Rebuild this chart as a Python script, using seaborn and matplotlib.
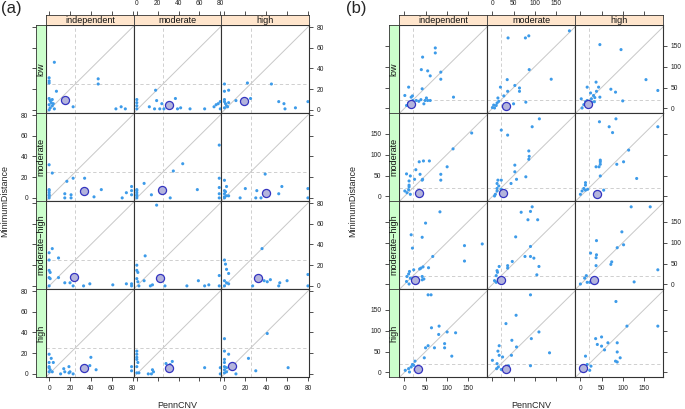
import pandas as pd
import matplotlib
matplotlib.use('Agg')
import matplotlib.pyplot as plt
import seaborn as sns

# --- DATA ---
col_names = ['independent', 'moderate', 'high']
row_names = ['low', 'moderate', 'moderate\u2212high', 'high']

# panel (a)
a_low_independent = [(5, 46), (0, 31), (0, 28), (0, 26), (7, 18), (0, 11), (1, 9), (2, 7), (0, 5), (3, 4), (1, 2),
                     (0, 0), (5, 1), (3, 10), (4, 6), (23, 3), (47, 30), (47, 25), (64, 1), (69, 3), (73, 1)]
a_low_moderate = [(0, 10), (0, 7), (0, 4), (0, 1), (12, 3), (18, 19), (19, 9), (17, 1), (22, 1), (24, 6), (26, 1),
                  (37, 11), (39, 1), (42, 2), (51, 1), (65, 1), (74, 3), (76, 5), (78, 6), (80, 8), (80, 1)]
a_low_high = [(0, 25), (0, 18), (4, 19), (0, 10), (0, 8), (1, 6), (2, 4), (0, 2), (3, 3), (4, 7), (11, 9), (22, 26),
              (25, 11), (45, 25), (52, 8), (57, 6), (58, 1), (68, 2), (80, 8)]
a_mod_independent = [(0, 32), (3, 24), (0, 8), (0, 7), (0, 5), (0, 3), (0, 2), (0, 0), (17, 16), (23, 19), (34, 19),
                     (15, 4), (21, 3), (15, 0), (21, 0), (43, 1), (50, 8), (70, 0), (74, 5), (79, 11), (79, 7), (79, 3)]
a_mod_moderate = [(0, 8), (0, 7), (0, 5), (0, 3), (0, 2), (0, 0), (7, 14), (14, 3), (32, 0), (35, 26), (44, 33),
                  (58, 8), (79, 51), (79, 19), (79, 10), (79, 4), (79, 0)]
a_mod_high = [(0, 17), (2, 11), (0, 7), (1, 6), (0, 4), (2, 2), (0, 1), (0, 0), (4, 2), (15, 0), (20, 9), (31, 7),
              (39, 23), (30, 0), (35, 0), (52, 4), (55, 11), (80, 9), (80, 0)]
a_modhigh_independent = [(3, 36), (0, 32), (0, 25), (9, 27), (0, 15), (1, 13), (0, 8), (1, 7), (0, 0), (9, 8),
                         (15, 3), (20, 3), (23, 0), (33, 0), (39, 2), (61, 1), (74, 2), (79, 2), (79, 0)]
a_modhigh_moderate = [(19, 78), (8, 29), (0, 20), (0, 15), (1, 13), (0, 7), (1, 4), (2, 0), (7, 5), (13, 0), (15, 1),
                      (27, 0), (48, 0), (59, 5), (65, 0), (69, 1), (79, 10), (79, 0)]
a_modhigh_high = [(0, 25), (1, 21), (2, 16), (4, 12), (0, 5), (0, 0), (2, 3), (4, 2), (27, 0), (36, 36), (38, 5),
                  (41, 4), (44, 6), (52, 0), (53, 3), (60, 5), (80, 11), (80, 0)]
a_high_independent = [(0, 19), (2, 15), (0, 11), (0, 7), (0, 6), (0, 2), (1, 4), (4, 11), (3, 2), (11, 0), (14, 5),
                      (15, 2), (19, 1), (20, 2), (19, 7), (23, 0), (39, 8), (40, 16), (45, 4), (79, 7), (79, 3)]
a_high_moderate = [(0, 22), (0, 19), (0, 16), (0, 14), (0, 7), (0, 1), (1, 11), (2, 1), (11, 0), (14, 0), (15, 4),
                   (16, 2), (28, 10), (32, 9), (34, 12), (65, 6), (80, 6), (80, 0)]
a_high_high = [(0, 34), (0, 22), (4, 19), (0, 14), (0, 11), (0, 7), (0, 4), (0, 1), (2, 6), (2, 2), (11, 0), (23, 15),
               (30, 3), (41, 39), (61, 6)]
a_centers = [(15, 10), (31, 5), (19, 9),
             (33, 7), (24, 8), (40, 5),
             (24, 9), (22, 8), (32, 8),
             (33, 6), (31, 6), (7, 8)]

# panel (b)
b_low_independent = [(73, 145), (73, 133), (43, 123), (40, 93), (55, 90), (61, 78), (86, 87), (86, 70), (10, 51),
                     (42, 47), (1, 31), (19, 30), (16, 27), (116, 27), (28, 19), (34, 17), (39, 21), (52, 25),
                     (55, 19), (49, 19), (61, 19), (46, 11), (5, 7), (10, 13), (20, 13), (23, 9), (20, 19)]
b_low_moderate = [(182, 186), (37, 169), (78, 169), (86, 174), (87, 93), (139, 70), (35, 69), (53, 55), (19, 51),
                  (64, 49), (64, 41), (36, 41), (27, 30), (13, 25), (11, 13), (9, 7), (5, 1), (50, 11), (79, 15),
                  (15, 17), (0, 2), (3, 8)]
b_low_high = [(46, 153), (96, 141), (155, 69), (183, 43), (37, 63), (43, 51), (72, 46), (83, 39), (100, 18),
              (16, 51), (24, 37), (38, 41), (31, 31), (34, 26), (26, 23), (46, 27), (2, 23), (8, 9), (12, 16),
              (20, 11), (27, 15), (33, 16), (16, 19), (4, 1)]
b_mod_independent = [(159, 152), (115, 114), (101, 71), (86, 53), (86, 39), (35, 83), (45, 85), (59, 85), (27, 64),
                     (37, 53), (5, 54), (14, 49), (11, 37), (11, 27), (11, 23), (24, 41), (43, 41), (1, 13), (6, 9),
                     (14, 5), (10, 16), (42, 39)]
b_mod_moderate = [(111, 186), (94, 167), (21, 159), (36, 147), (86, 109), (86, 89), (87, 96), (53, 75), (53, 59),
                  (79, 47), (57, 41), (44, 31), (13, 39), (21, 39), (11, 31), (15, 25), (11, 19), (11, 13), (7, 5),
                  (5, 1), (21, 17), (21, 11)]
b_mod_high = [(45, 179), (84, 186), (68, 167), (76, 153), (183, 167), (114, 111), (102, 83), (86, 77), (47, 87),
              (47, 83), (47, 77), (37, 71), (44, 71), (47, 49), (133, 43), (12, 33), (12, 27), (8, 19), (4, 13),
              (12, 15), (17, 17), (0, 5), (55, 15)]
b_modhigh_independent = [(84, 174), (50, 147), (16, 119), (42, 113), (19, 87), (142, 93), (184, 97), (142, 56),
                         (67, 67), (57, 40), (44, 42), (39, 39), (36, 37), (22, 35), (12, 31), (10, 25), (6, 19),
                         (14, 15), (5, 7), (11, 1), (42, 19), (42, 11), (46, 13)]
b_modhigh_moderate = [(94, 186), (90, 175), (68, 173), (84, 155), (107, 155), (55, 114), (90, 91), (77, 67), (90, 67),
                      (98, 63), (47, 55), (110, 43), (105, 23), (36, 45), (36, 39), (16, 43), (11, 33), (12, 29),
                      (9, 21), (5, 9), (9, 5), (14, 13)]
b_modhigh_high = [(120, 186), (165, 186), (98, 126), (38, 105), (87, 88), (102, 95), (24, 75), (38, 71), (37, 64),
                  (74, 54), (72, 48), (37, 45), (183, 35), (127, 6), (14, 21), (10, 15), (16, 5), (0, 1), (22, 5)]
b_high_independent = [(56, 186), (63, 186), (64, 107), (82, 111), (81, 91), (101, 97), (121, 95), (95, 69), (95, 59),
                      (56, 64), (71, 59), (50, 59), (112, 39), (47, 35), (25, 27), (19, 19), (16, 13), (10, 9),
                      (2, 5), (12, 1), (22, 17)]
b_high_moderate = [(90, 186), (56, 137), (32, 117), (110, 97), (92, 81), (46, 77), (57, 61), (16, 64), (13, 51),
                   (16, 41), (24, 37), (0, 29), (45, 41), (135, 47), (90, 16), (11, 21), (10, 9), (14, 13), (21, 7),
                   (38, 16), (38, 8)]
b_high_high = [(84, 170), (110, 111), (183, 111), (50, 85), (36, 81), (65, 71), (40, 67), (50, 63), (87, 71),
               (57, 54), (87, 49), (94, 35), (83, 27), (87, 25), (12, 39), (16, 19), (25, 15), (22, 5)]
b_centers = [(15, 10), (31, 5), (18, 10),
             (34, 8), (24, 9), (40, 6),
             (24, 11), (21, 10), (33, 10),
             (33, 7), (31, 7), (6, 10)]

a_facets = [a_low_independent, a_low_moderate, a_low_high,
            a_mod_independent, a_mod_moderate, a_mod_high,
            a_modhigh_independent, a_modhigh_moderate, a_modhigh_high,
            a_high_independent, a_high_moderate, a_high_high]
b_facets = [b_low_independent, b_low_moderate, b_low_high,
            b_mod_independent, b_mod_moderate, b_mod_high,
            b_modhigh_independent, b_modhigh_moderate, b_modhigh_high,
            b_high_independent, b_high_moderate, b_high_high]

a_ticks = [0, 20, 40, 60, 80]
b_ticks = [0, 50, 100, 150]
a_cut = 25
b_cut = 20


def to_frame(facets, centers, panel):
    recs = []
    for k, pts in enumerate(facets):
        r, c = divmod(k, 3)
        for x, y in pts:
            recs.append(dict(panel=panel, row=r, col=c, PennCNV=x, MinimumDistance=y, kind='point'))
        cx, cy = centers[k]
        recs.append(dict(panel=panel, row=r, col=c, PennCNV=cx, MinimumDistance=cy, kind='center'))
    return recs


df = pd.DataFrame(to_frame(a_facets, a_centers, 'a') + to_frame(b_facets, b_centers, 'b'))

# --- STYLE ---
sns.set_style('white')
plt.rcParams['font.family'] = ['Liberation Sans', 'DejaVu Sans']

W, H = 685, 409
fig = plt.figure(figsize=(W / 100, H / 100), dpi=100)


def box(x0, y0, w, h):
    return [x0 / W, 1 - (y0 + h) / H, w / W, h / H]


frame_col = '#333333'
strip_top = '#ffe5cc'
strip_left = '#ccffcc'
tick_font = 4.8
lab_font = 6.5

layouts = {
    'a': dict(lefts=[46, 133.67, 221.33], cw=87.67, xlim=(-3, 81), ylim=(-3, 82),
              ticks=a_ticks, cut=a_cut, strip_x=36, label_x=177.5, ylab_x=5, tag_x=0, tag='(a)'),
    'b': dict(lefts=[399.33, 487.33, 575.33], cw=88, xlim=(-12, 196), ylim=(-11, 200),
              ticks=b_ticks, cut=b_cut, strip_x=389, label_x=531, ylab_x=353, tag_x=345, tag='(b)'),
}
row_tops = [25, 113, 201, 289]
rh = 88
strip_h = 10
strip_w = 10


def style_ticks(ax, **kw):
    ax.tick_params(direction='out', length=3, width=0.6, color=frame_col, labelsize=tick_font,
                   pad=2.5, labelcolor='#222222', **kw)


for pname, L in layouts.items():
    sub = df[df.panel == pname]
    for r in range(4):
        for c in range(3):
            ax = fig.add_axes(box(L['lefts'][c], row_tops[r], L['cw'], rh))
            ax.set_xlim(L['xlim'])
            ax.set_ylim(L['ylim'])
            ax.axline((0, 0), (1, 1), color='#c8c8c8', lw=0.7, zorder=1)
            ax.axvline(L['cut'], color='#c8c8c8', lw=0.6, ls=(0, (4, 3)), zorder=1)
            ax.axhline(L['cut'], color='#c8c8c8', lw=0.6, ls=(0, (4, 3)), zorder=1)
            cell = sub[(sub.row == r) & (sub.col == c)]
            sns.scatterplot(data=cell[cell.kind == 'point'], x='PennCNV', y='MinimumDistance', ax=ax,
                            color='#3d9be9', s=5, edgecolor='none', linewidth=0, legend=False, zorder=3)
            sns.scatterplot(data=cell[cell.kind == 'center'], x='PennCNV', y='MinimumDistance', ax=ax,
                            color='#b4b4dc', s=34, edgecolor='#3434c0', linewidth=0.9, legend=False, zorder=4)
            ax.set_xlabel('')
            ax.set_ylabel('')
            for sp in ax.spines.values():
                sp.set_color(frame_col)
                sp.set_linewidth(0.8)
            ax.set_xticks(L['ticks'])
            ax.set_yticks(L['ticks'])
            style_ticks(ax)
            ax.tick_params(top=False, labeltop=False, left=False, labelleft=False,
                           bottom=(r == 3), labelbottom=(r == 3 and c != 1),
                           right=(c == 2), labelright=(c == 2 and r % 2 == 0))

            # top strip with ticks above it
            if r == 0:
                st = fig.add_axes(box(L['lefts'][c], row_tops[0] - strip_h, L['cw'], strip_h))
                st.set_facecolor(strip_top)
                st.set_xlim(L['xlim'])
                st.set_ylim(0, 1)
                st.set_xticks(L['ticks'])
                st.set_yticks([])
                style_ticks(st)
                st.tick_params(bottom=False, labelbottom=False, top=True, labeltop=(c == 1))
                for sp in st.spines.values():
                    sp.set_color(frame_col)
                    sp.set_linewidth(0.6)
                st.text(0.5, 0.45, col_names[c], transform=st.transAxes, ha='center', va='center',
                        fontsize=lab_font, color='#111111')

            # left strip with ticks left of it
            if c == 0:
                sl = fig.add_axes(box(L['strip_x'], row_tops[r], strip_w, rh))
                sl.set_facecolor(strip_left)
                sl.set_ylim(L['ylim'])
                sl.set_xlim(0, 1)
                sl.set_yticks(L['ticks'])
                sl.set_xticks([])
                style_ticks(sl)
                sl.tick_params(left=True, labelleft=(r % 2 == 1))
                for sp in sl.spines.values():
                    sp.set_color(frame_col)
                    sp.set_linewidth(0.6)
                sl.text(0.5, 0.5, row_names[r], transform=sl.transAxes, ha='center', va='center',
                        rotation=90, fontsize=lab_font, color='#111111')

    fig.text(L['label_x'] / W, 1 - 405 / H, 'PennCNV', ha='center', va='center', fontsize=lab_font)
    fig.text(L['ylab_x'] / W, 1 - 201 / H, 'MinimumDistance', ha='center', va='center',
             rotation=90, fontsize=lab_font)
    fig.text((L['tag_x'] + 1) / W, 1 - 1 / H, L['tag'], ha='left', va='top', fontsize=12)

fig.savefig('out.png', dpi=100)
